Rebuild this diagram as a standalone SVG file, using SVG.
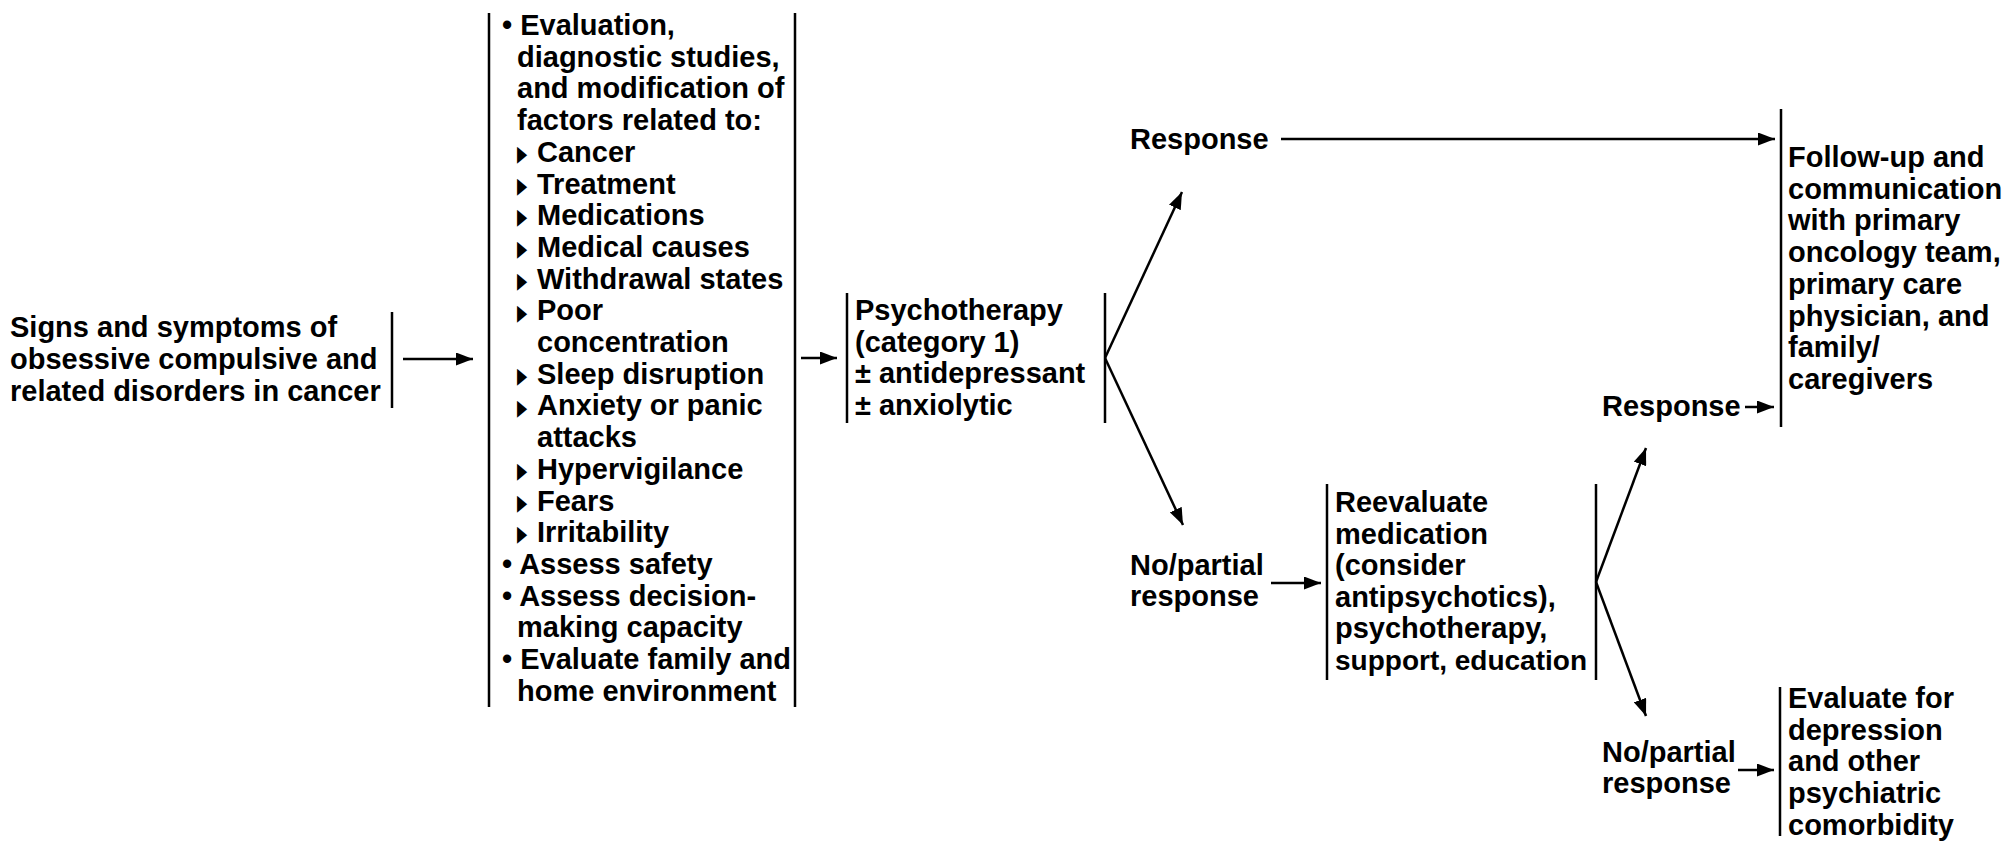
<svg xmlns="http://www.w3.org/2000/svg" width="2005" height="841" viewBox="0 0 2005 841">
<style>
text{font-family:"Liberation Sans",Arial,sans-serif;font-weight:bold;font-size:29px;fill:#000}
text.tri{font-family:"DejaVu Sans",sans-serif;font-weight:normal;font-size:22px}
.bar{stroke:#000;stroke-width:2.5;fill:none}
.arr{stroke:#000;stroke-width:2.5;fill:none;marker-end:url(#ah)}
</style>
<defs>
<marker id="ah" markerUnits="userSpaceOnUse" markerWidth="17" markerHeight="13" refX="17" refY="6.5" orient="auto">
<path d="M0,0 L17,6.5 L0,13 z" fill="#000"/>
</marker>
</defs>
<rect width="2005" height="841" fill="#fff"/>

<g id="signs">
<text x="10" y="337">Signs and symptoms of</text>
<text x="10" y="369">obsessive compulsive and</text>
<text x="10" y="401">related disorders in cancer</text>
<line class="bar" x1="392" y1="312" x2="392" y2="408"/>
</g>

<g id="evaluation">
<line class="bar" x1="489" y1="13" x2="489" y2="707"/>
<line class="bar" x1="795" y1="13" x2="795" y2="707"/>
<text x="502" y="35">• Evaluation,</text>
<text x="517" y="66.7">diagnostic studies,</text>
<text x="517" y="98.4">and modification of</text>
<text x="517" y="130.1">factors related to:</text>
<text class="tri" transform="translate(517,161) scale(0.6,1)">▶</text>
<text x="537" y="161.8">Cancer</text>
<text class="tri" transform="translate(517,192.7) scale(0.6,1)">▶</text>
<text x="537" y="193.5">Treatment</text>
<text class="tri" transform="translate(517,224.4) scale(0.6,1)">▶</text>
<text x="537" y="225.2">Medications</text>
<text class="tri" transform="translate(517,256.1) scale(0.6,1)">▶</text>
<text x="537" y="256.9">Medical causes</text>
<text class="tri" transform="translate(517,287.8) scale(0.6,1)">▶</text>
<text x="537" y="288.6">Withdrawal states</text>
<text class="tri" transform="translate(517,319.5) scale(0.6,1)">▶</text>
<text x="537" y="320.3">Poor</text>
<text x="537" y="352">concentration</text>
<text class="tri" transform="translate(517,382.9) scale(0.6,1)">▶</text>
<text x="537" y="383.7">Sleep disruption</text>
<text class="tri" transform="translate(517,414.6) scale(0.6,1)">▶</text>
<text x="537" y="415.4">Anxiety or panic</text>
<text x="537" y="447.1">attacks</text>
<text class="tri" transform="translate(517,478) scale(0.6,1)">▶</text>
<text x="537" y="478.8">Hypervigilance</text>
<text class="tri" transform="translate(517,509.7) scale(0.6,1)">▶</text>
<text x="537" y="510.5">Fears</text>
<text class="tri" transform="translate(517,541.4) scale(0.6,1)">▶</text>
<text x="537" y="542.2">Irritability</text>
<text x="502" y="573.9">• Assess safety</text>
<text x="502" y="605.6">• Assess decision-</text>
<text x="517" y="637.3">making capacity</text>
<text x="502" y="669">• Evaluate family and</text>
<text x="517" y="700.7">home environment</text>
</g>

<g id="psychotherapy">
<line class="bar" x1="847" y1="293" x2="847" y2="423"/>
<line class="bar" x1="1105" y1="293" x2="1105" y2="423"/>
<text x="855" y="320">Psychotherapy</text>
<text x="855" y="352">(category 1)</text>
<text x="855" y="383">± antidepressant</text>
<text x="855" y="415">± anxiolytic</text>
</g>

<g id="response1">
<text x="1130" y="149">Response</text>
</g>

<g id="nopartial1">
<text x="1130" y="575">No/partial</text>
<text x="1130" y="606">response</text>
</g>

<g id="followup">
<line class="bar" x1="1781" y1="109" x2="1781" y2="427"/>
<text x="1788" y="167">Follow-up and</text>
<text x="1788" y="199">communication</text>
<text x="1788" y="230">with primary</text>
<text x="1788" y="262">oncology team,</text>
<text x="1788" y="294">primary care</text>
<text x="1788" y="326">physician, and</text>
<text x="1788" y="357">family/</text>
<text x="1788" y="389">caregivers</text>
</g>

<g id="reevaluate">
<line class="bar" x1="1327" y1="484" x2="1327" y2="680"/>
<line class="bar" x1="1596" y1="484" x2="1596" y2="680"/>
<text x="1335" y="512">Reevaluate</text>
<text x="1335" y="544">medication</text>
<text x="1335" y="575">(consider</text>
<text x="1335" y="607">antipsychotics),</text>
<text x="1335" y="638">psychotherapy,</text>
<text x="1335" y="670" style="font-size:28px">support, education</text>
</g>

<g id="response2">
<text x="1602" y="416">Response</text>
</g>

<g id="nopartial2">
<text x="1602" y="762">No/partial</text>
<text x="1602" y="793">response</text>
</g>

<g id="evaluate">
<line class="bar" x1="1780" y1="687" x2="1780" y2="836"/>
<text x="1788" y="708">Evaluate for</text>
<text x="1788" y="740">depression</text>
<text x="1788" y="771">and other</text>
<text x="1788" y="803">psychiatric</text>
<text x="1788" y="835">comorbidity</text>
</g>

<g id="connectors">
<line class="arr" x1="403" y1="359" x2="473" y2="359"/>
<line class="arr" x1="801" y1="358" x2="837" y2="358"/>
<line class="arr" x1="1105" y1="358" x2="1182" y2="192"/>
<line class="arr" x1="1105" y1="358" x2="1183" y2="525"/>
<line class="arr" x1="1281" y1="139" x2="1775" y2="139"/>
<line class="arr" x1="1271" y1="583" x2="1321" y2="583"/>
<line class="arr" x1="1596" y1="582" x2="1646" y2="448"/>
<line class="arr" x1="1596" y1="582" x2="1646" y2="716"/>
<line class="arr" x1="1745" y1="407" x2="1774" y2="407"/>
<line class="arr" x1="1738" y1="770" x2="1774" y2="770"/>
</g>
</svg>
